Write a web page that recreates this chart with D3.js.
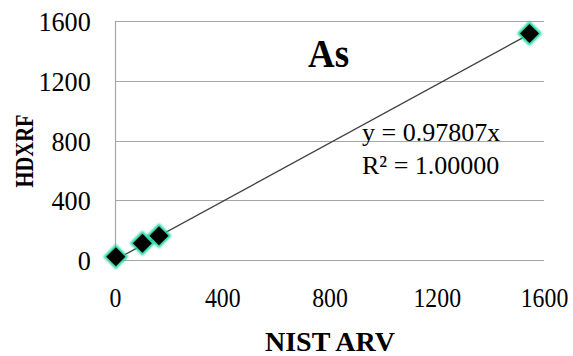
<!DOCTYPE html>
<html>
<head>
<meta charset="utf-8">
<script src="https://cdn.jsdelivr.net/npm/d3@7"></script>
<style>
  html, body { margin: 0; padding: 0; background: #fff; }
  svg { display: block; }
</style>
</head>
<body>
<svg id="chart" width="573" height="356"></svg>
<script>
// Arsenic: certified reference values vs. measured HDXRF concentrations
const nistArv = [3, 102, 164, 1546];
const hdxrf   = [22, 112, 163, 1516];
const xTicks  = [0, 400, 800, 1200, 1600];
const yTicks  = [0, 400, 800, 1200, 1600];
const slope   = 0.97807;
const rSquared = "1.00000";
const elementLabel = "As";
const xTitle = "NIST ARV";
const yTitle = "HDXRF";

const FONT = "'Liberation Serif'";

const svg = d3.select("#chart");
const plot = { left: 115, right: 544, top: 21, bottom: 260 };

const x = d3.scaleLinear().domain([0, 1600]).range([plot.left, plot.right]);
const y = d3.scaleLinear().domain([0, 1600]).range([plot.bottom, plot.top]);

const gridColor = "#a6a6a6";

// horizontal gridlines
svg.append("g")
  .selectAll("line")
  .data(yTicks)
  .join("line")
  .attr("x1", plot.left).attr("x2", plot.right)
  .attr("y1", d => Math.round(y(d)) + 0.5).attr("y2", d => Math.round(y(d)) + 0.5)
  .attr("stroke", gridColor).attr("stroke-width", 1.2);

// vertical axis line
svg.append("line")
  .attr("x1", plot.left + 0.5).attr("x2", plot.left + 0.5)
  .attr("y1", plot.top).attr("y2", plot.bottom + 1)
  .attr("stroke", gridColor).attr("stroke-width", 1.2);

// y axis labels
const yAxis = svg.append("g")
  .attr("transform", `translate(${plot.left},0)`)
  .call(d3.axisLeft(y).tickValues(yTicks).tickSize(0).tickPadding(25).tickFormat(d3.format("d")));
yAxis.select(".domain").remove();
yAxis.attr("font-family", null).attr("font-size", null);
yAxis.selectAll("text")
  .style("font-family", FONT)
  .style("font-size", "27px")
  .attr("fill", "#000")
  .attr("dy", "0.36em")
  .attr("transform", "scale(0.97,1)");

// x axis labels
const xAxis = svg.append("g")
  .attr("transform", `translate(0,${plot.bottom})`)
  .call(d3.axisBottom(x).tickValues(xTicks).tickSize(0).tickPadding(28).tickFormat(d3.format("d")));
xAxis.select(".domain").remove();
xAxis.attr("font-family", null).attr("font-size", null);
xAxis.selectAll("text")
  .style("font-family", FONT)
  .style("font-size", "27px")
  .attr("fill", "#000")
  .attr("transform", "scale(0.88,1)");

// forced-through-origin trendline across the data range
const xMin = d3.min(nistArv), xMax = d3.max(nistArv);
svg.append("line")
  .attr("x1", x(xMin)).attr("y1", y(slope * xMin))
  .attr("x2", x(xMax)).attr("y2", y(slope * xMax))
  .attr("stroke", "#404040").attr("stroke-width", 1.3);

// diamond markers with teal glow
const defs = svg.append("defs");
defs.append("filter").attr("id", "glow").attr("x", "-50%").attr("y", "-50%").attr("width", "200%").attr("height", "200%")
  .append("feGaussianBlur").attr("stdDeviation", 0.9);

const pts = nistArv.map((v, i) => [v, hdxrf[i]]);
const diamond = r => `M0,${-r}L${r},0L0,${r}L${-r},0Z`;

const markers = svg.append("g").selectAll("g")
  .data(pts)
  .join("g")
  .attr("transform", d => `translate(${x(d[0])},${y(d[1])})`);
markers.append("path")
  .attr("d", diamond(12.5))
  .attr("fill", "#1fd39e")
  .attr("filter", "url(#glow)");
markers.append("path")
  .attr("d", diamond(9.5))
  .attr("fill", "#000");

// element label
svg.append("text")
  .attr("x", 308).attr("y", 67)
  .style("font-family", FONT)
  .style("font-size", "41px").style("font-weight", "bold")
  .attr("textLength", 41).attr("lengthAdjust", "spacingAndGlyphs")
  .text(elementLabel);

// regression equation
svg.append("text")
  .attr("x", 362).attr("y", 141)
  .style("font-family", FONT).style("font-size", "26px")
  .text(`y = ${slope}x`);
svg.append("text")
  .attr("x", 362).attr("y", 174)
  .style("font-family", FONT).style("font-size", "26px")
  .text(`R² = ${rSquared}`);

// axis titles
svg.append("text")
  .attr("x", 330).attr("y", 351)
  .attr("text-anchor", "middle")
  .style("font-family", FONT)
  .style("font-size", "28px").style("font-weight", "bold")
  .attr("textLength", 130).attr("lengthAdjust", "spacingAndGlyphs")
  .text(xTitle);
svg.append("text")
  .attr("transform", "translate(33,151) rotate(-90)")
  .attr("text-anchor", "middle")
  .style("font-family", FONT)
  .style("font-size", "26px").style("font-weight", "bold")
  .attr("textLength", 73).attr("lengthAdjust", "spacingAndGlyphs")
  .text(yTitle);
</script>
</body>
</html>
